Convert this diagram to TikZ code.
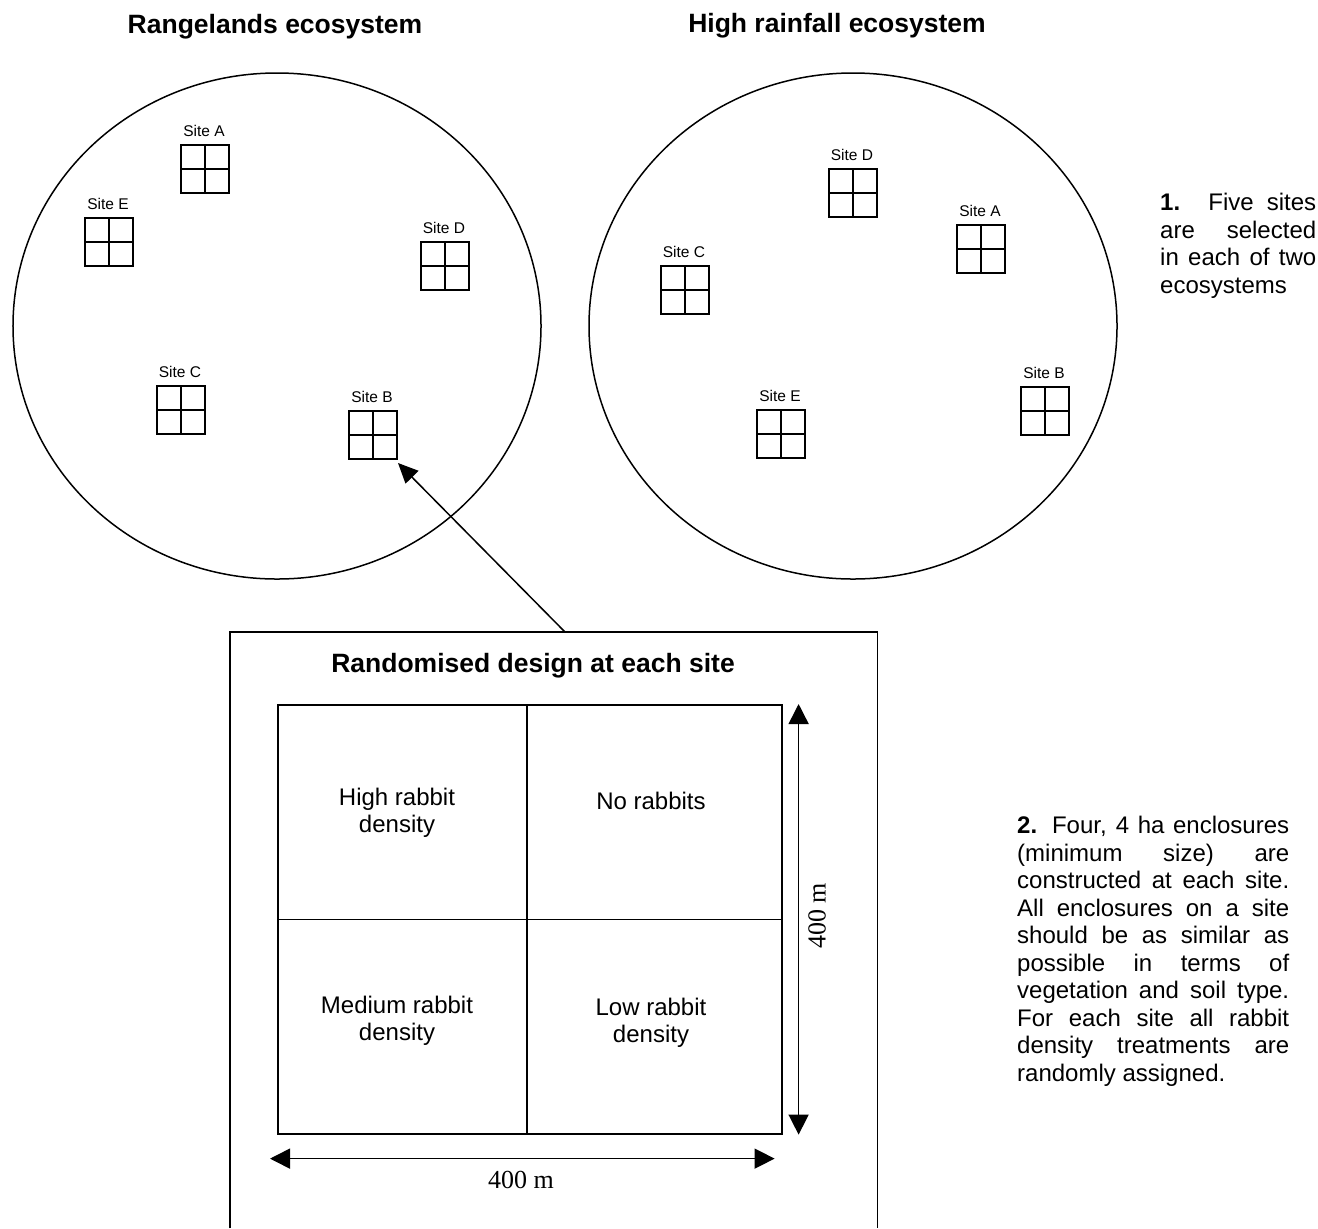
\documentclass[tikz,border=0pt]{standalone}
\usepackage{fontspec}
\setmainfont{Liberation Sans}
\newfontfamily\serifface{Liberation Serif}
\usetikzlibrary{arrows.meta,shapes.geometric,calc}
\setlength\parindent{0pt}
\tolerance=10000\relax
\hbadness=10000\relax
\newcommand\sitebox[4]{%
  \node[sitesq, anchor=north west] (#1) at (#2,#3) {};
  \draw[line width=2bp] (#1.north) -- (#1.south) (#1.west) -- (#1.east);
  \node[sitelbl, anchor=base] (#1l) at ($(#1.north)+(-1,-9)$) {#4};
}
\begin{document}
\begin{tikzpicture}[x=1bp,y=-1bp,
  eco/.style={draw, ellipse, line width=1.5bp, minimum width=528bp, minimum height=506bp, inner sep=0pt},
  sitesq/.style={draw, line width=2bp, minimum size=48bp, inner sep=0pt, outer sep=0pt},
  sitelbl/.style={font=\fontsize{15.5bp}{18bp}\selectfont, inner sep=0pt},
  title/.style={font=\bfseries\fontsize{26.5bp}{30bp}\selectfont, inner sep=0pt},
  body/.style={font=\fontsize{24bp}{27.5bp}\selectfont, inner sep=0pt, align=justify},
  cell/.style={font=\fontsize{24bp}{27bp}\selectfont, inner sep=0pt, align=center},
  dimtext/.style={font=\serifface\fontsize{26bp}{30bp}\selectfont, inner sep=0pt},
  thinln/.style={line width=1.6bp},
  bigtip/.style={line width=1.5bp, {Triangle[length=20bp,width=20bp]}-{Triangle[length=20bp,width=20bp]}},
]
\useasboundingbox (0,0) rectangle (1318,1228);

% titles
\node[title] (t1) at (275,27) {Rangelands ecosystem};
\node[title] (t2) at (837,26) {High rainfall ecosystem};

% ecosystems
\node[eco] (ecoL) at (277,326) {};
\node[eco] (ecoR) at (853,326) {};

% left sites
\sitebox{LA}{181}{145}{Site A}
\sitebox{LE}{85}{218}{Site E}
\sitebox{LD}{421}{242}{Site D}
\sitebox{LC}{157}{386}{Site C}
\sitebox{LB}{349}{411}{Site B}

% right sites
\sitebox{RD}{829}{169}{Site D}
\sitebox{RA}{957}{225}{Site A}
\sitebox{RC}{661}{266}{Site C}
\sitebox{RB}{1021}{387}{Site B}
\sitebox{RE}{757}{410}{Site E}

% note 1
\node[body, text width=156bp, anchor=north west] (n1) at (1160,193)
  {\textbf{1.} Five sites\linebreak are selected\linebreak in each of two\linebreak ecosystems};

% design box (open at the bottom edge of the picture)
\node[minimum width=647bp, minimum height=596bp, inner sep=0pt, anchor=north west] (design) at (230,632) {};
\draw[thinln] (design.south west) -- (design.north west) -- (design.north east) -- (design.south east);
\node[title] (dt) at (533,666) {Randomised design at each site};

% arrow to Site B
\draw[line width=1.5bp, -{Triangle[length=20bp,width=18bp]}] ($(design.north west)+(335,0)$) -- ($(LB.south east)+(1,4)$);

% grid
\node[draw, thinln, minimum width=504bp, minimum height=429bp, inner sep=0pt, anchor=north west] (grid) at (277,704) {};
\draw[thinln] ($(grid.north)+(-3,0)$) -- ($(grid.south)+(-3,0)$);
\draw[thinln] (grid.west) -- (grid.east);

\node[cell] (c1) at (397,813) {High rabbit\\density};
\node[cell] (c2) at (651,801) {No rabbits};
\node[cell] (c3) at (397,1021) {Medium rabbit\\density};
\node[cell] (c4) at (651,1023) {Low rabbit\\density};

% dimension arrows
\coordinate (vt) at ($(grid.north east)+(16,0)$);
\coordinate (vb) at ($(grid.south east)+(16,0)$);
\draw[bigtip] (vt) -- (vb);
\coordinate (hl) at ($(grid.south west)+(-7,24)$);
\coordinate (hr) at ($(grid.south east)+(-8,24)$);
\draw[bigtip] (hl) -- (hr);
\node[dimtext, rotate=90] (dv) at (817,916) {400 m};
\node[dimtext] (dh) at (521,1180) {400 m};

% note 2
\node[body, text width=272bp, anchor=north west] (n2) at (1017,816)
  {\textbf{2.} Four, 4 ha enclosures\linebreak (minimum size) are\linebreak constructed at each site.\linebreak All enclosures on a site\linebreak should be as similar as\linebreak possible in terms of\linebreak vegetation and soil type.\linebreak For each site all rabbit\linebreak density treatments are\linebreak randomly assigned.};
\end{tikzpicture}
\end{document}
